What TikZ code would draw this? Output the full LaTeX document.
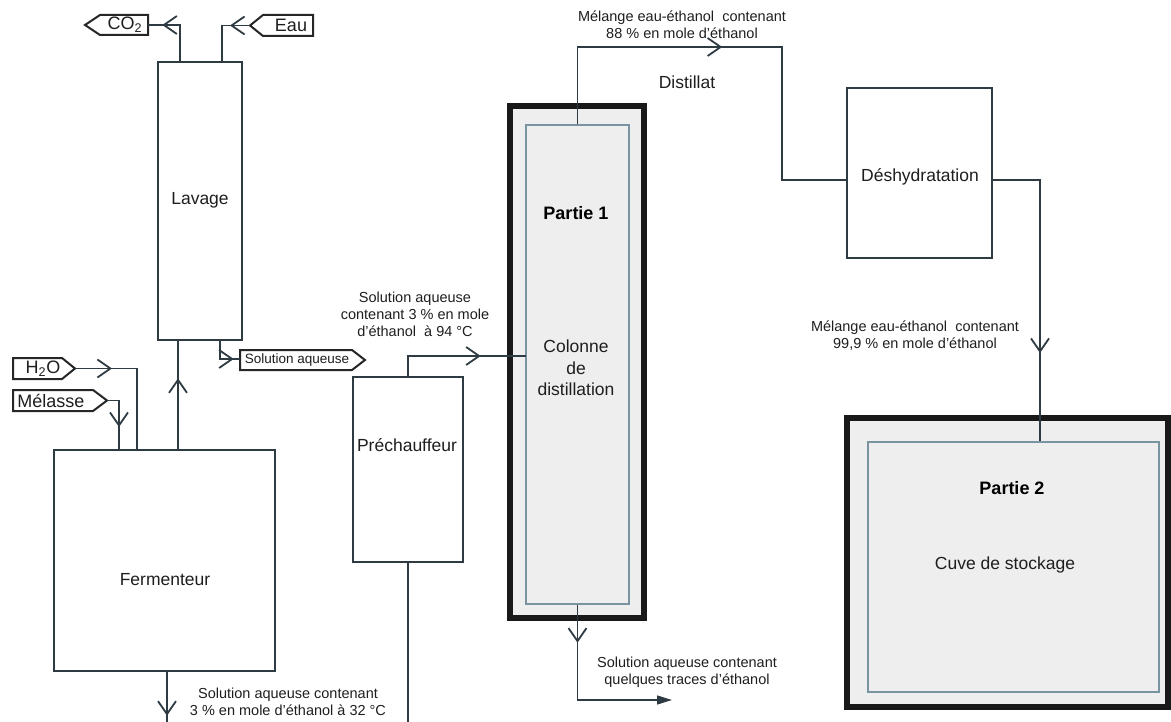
\documentclass[tikz,border=0pt]{standalone}
\usepackage{fontspec}
\setmainfont{Liberation Sans}
\usetikzlibrary{arrows.meta,decorations.markings}
\definecolor{ln}{HTML}{2E3B42}
\definecolor{txt}{HTML}{1E1E1E}
\definecolor{fillg}{HTML}{EEEEEE}
\definecolor{innerc}{HTML}{7A93A0}
\begin{document}
\begin{tikzpicture}[x=1pt,y=-1pt,
  box/.style={draw=ln, line width=1.4pt, fill=white, inner sep=0pt},
  thickbox/.style={draw=black!90, line width=5.5pt, fill=fillg, inner sep=0pt},
  innerbox/.style={draw=innerc, line width=1.4pt, fill=fillg, inner sep=0pt},
  tagshape/.style={draw=black!85, line width=2pt, fill=white, line join=miter},
  tagtxt/.style={text=txt, font=\fontsize{18}{20}\selectfont, inner sep=0pt},
  tagsmall/.style={text=txt, font=\fontsize{13.5}{15}\selectfont, inner sep=0pt},
  lbl/.style={text=txt, font=\fontsize{17.5}{21.5}\selectfont, align=center, inner sep=0pt},
  blbl/.style={text=black, font=\fontsize{18}{21.5}\selectfont\bfseries, align=center, inner sep=0pt},
  small/.style={text=txt, font=\fontsize{14.5}{17}\selectfont, align=center, inner sep=0pt},
  flow/.style={draw=ln, line width=1.4pt},
  marr/.style={postaction={decorate, decoration={markings, mark=at position #1 with {\arrow{Straight Barb[length=13pt,width=18pt,line width=1.8pt]}}}}}
]
\useasboundingbox (0,0) rectangle (1171,722);

% ---------- boxes ----------
\node[box, minimum width=84pt, minimum height=278pt] (lav) at (200,201) {};
\node[box, minimum width=221pt, minimum height=221pt] (ferm) at (164.5,560.5) {};
\node[box, minimum width=110pt, minimum height=185pt] (pre) at (408,469.5) {};
\node[box, minimum width=145pt, minimum height=170pt] (dehyd) at (919.5,173) {};
\node[thickbox, minimum width=134pt, minimum height=512pt] (colout) at (577,362) {};
\node[innerbox, minimum width=103pt, minimum height=479pt] (colin) at (577.5,364.5) {};
\node[thickbox, minimum width=321pt, minimum height=289pt] (cuveout) at (1007.5,562.5) {};
\node[innerbox, minimum width=291pt, minimum height=250pt] (cuvein) at (1013.5,567) {};

% ---------- tags ----------
\draw[tagshape] (85,25) -- (100,15) -- (148,15) -- (148,35) -- (100,35) -- cycle;
\node[tagtxt] (co2) at (125,25) {CO\textsubscript{2}};
\draw[tagshape] (250,25.5) -- (263,15) -- (313,15) -- (313,36) -- (263,36) -- cycle;
\node[tagtxt] (eau) at (291,25.5) {Eau};
\draw[tagshape] (13,358) -- (62,358) -- (75,368.5) -- (62,379) -- (13,379) -- cycle;
\node[tagtxt] (h2o) at (43,368.5) {H\textsubscript{2}O};
\draw[tagshape] (13,390) -- (93,390) -- (107,400.5) -- (93,411) -- (13,411) -- cycle;
\node[tagtxt] (mel) at (51,400.5) {Mélasse};
\draw[tagshape] (240,350) -- (352,350) -- (365,360) -- (352,370) -- (240,370) -- cycle;
\node[tagsmall] (solaq) at (297,360) {Solution aqueuse};

% ---------- coordinates ----------
\coordinate (co2r) at (148,25);
\coordinate (co2v) at (180,25);
\coordinate (eaul) at (250,25.5);
\coordinate (eauv) at (222,25.5);
\coordinate (h2or) at (75,368.5);
\coordinate (h2ov) at (137,368.5);
\coordinate (melr) at (107,400.5);
\coordinate (melv) at (119,400.5);
\coordinate (up) at (178,400);
\coordinate (lavo) at (220,359);
\coordinate (solaql) at (240,359);
\coordinate (fout) at (167,722);
\coordinate (prebot) at (408,722);
\coordinate (prein) at (408,356);
\coordinate (colinl) at (526,356);
\coordinate (dtop) at (782,47);
\coordinate (dhin) at (847,180);
\coordinate (dhout) at (992,180);
\coordinate (cv) at (1040,180);
\coordinate (cbot) at (577.5,700);
\coordinate (cend) at (672,700);

% ---------- connectors ----------
\draw[flow, marr=54pt] (lav.north -| co2v) -- (co2v) -- (co2r);
\draw[flow, marr=20pt] (eaul) -- (eauv) -- (lav.north -| eauv);
\draw[flow, marr=37pt] (h2or) -- (h2ov) -- (ferm.north -| h2ov);
\draw[flow, marr=38.5pt] (melr) -- (melv) -- (ferm.north -| melv);
\draw[flow, marr=71pt] (ferm.north -| up) -- (lav.south -| up);
\draw[flow, marr=32pt] (lav.south -| lavo) -- (lavo) -- (solaql);
\draw[flow, marr=44pt] (ferm.south -| fout) -- (fout);
\draw[flow] (pre.south) -- (prebot);
\draw[flow, marr=93pt] (pre.north) -- (prein) -- (colinl);
\draw[flow, marr=222pt] (colin.north) |- (dtop) |- (dhin);
\draw[flow, marr=221pt] (dhout) -- (cv) -- (cuvein.north -| cv);
\draw[flow, marr=38pt, -{Triangle[length=15pt,width=9pt]}] (colin.south) -- (cbot) -- (cend);

% ---------- labels ----------
\node[lbl] (tlav) at (200,200) {Lavage};
\node[lbl] (tferm) at (165,580) {Fermenteur};
\node[lbl] (tpre) at (407,445) {Préchauffeur};
\node[blbl] (tp1) at (576,213) {Partie 1};
\node[lbl] (tcol) at (576,368) {Colonne\\de\\distillation};
\node[lbl] (tdeh) at (920,177) {Déshydratation};
\node[blbl] (tp2) at (1012,488) {Partie 2};
\node[lbl] (tcuve) at (1005,565) {Cuve de stockage};
\node[lbl] (tdist) at (687,82) {Distillat};

\node[small] (l88) at (682,25) {Mélange eau-éthanol\ \ contenant\\88 \% en mole d’éthanol};
\node[small] (l94) at (415,314) {Solution aqueuse\\contenant 3 \% en mole\\d’éthanol\ \ à 94 °C};
\node[small] (l999) at (915,335.5) {Mélange eau-éthanol\ \ contenant\\99,9 \% en mole d’éthanol};
\node[small] (ltr) at (687,672.5) {Solution aqueuse contenant\\quelques traces d’éthanol};
\node[small] (l32) at (288,702) {Solution aqueuse contenant\\3 \% en mole d’éthanol à 32 °C};
\end{tikzpicture}
\end{document}
